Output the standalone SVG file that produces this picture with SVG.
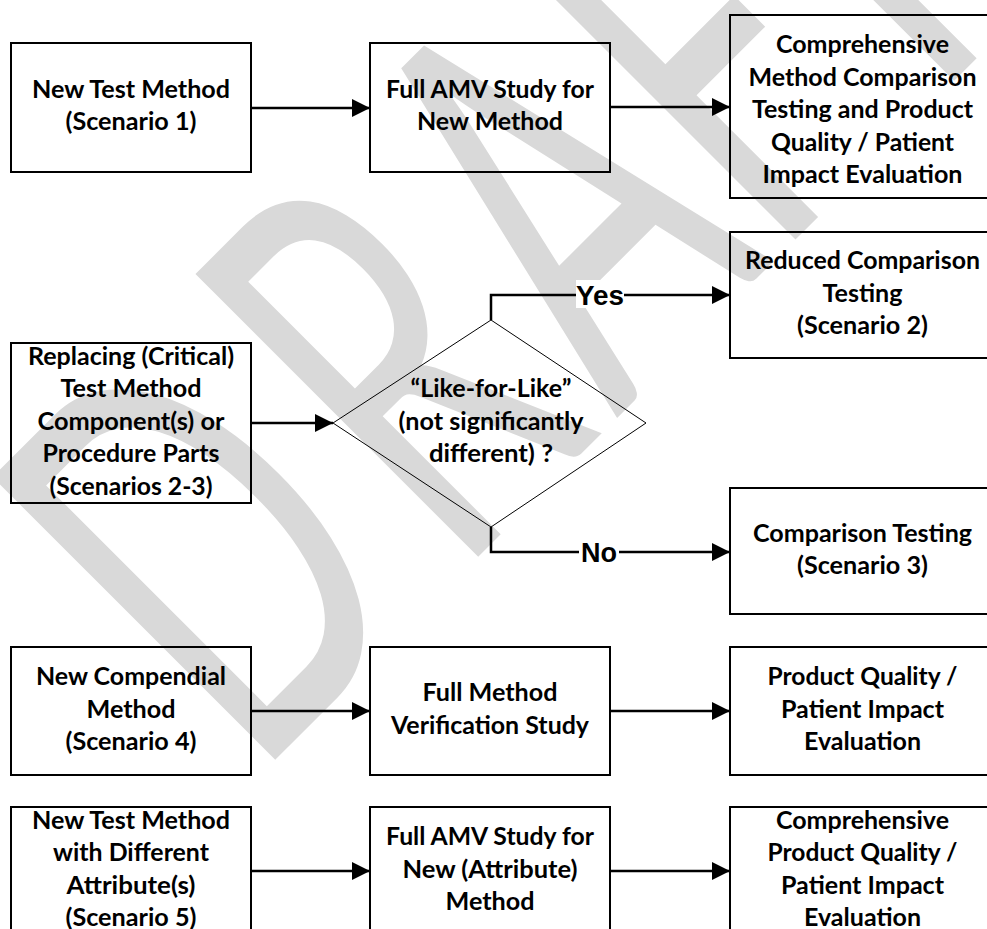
<svg xmlns="http://www.w3.org/2000/svg" width="987" height="929" viewBox="0 0 987 929">
  <style>
    .box { fill: none; stroke: #000; stroke-width: 2; }
    .dec { fill: none; stroke: #000; stroke-width: 1; }
    .t { font-family: Lato, "Open Sans", sans-serif; font-weight: 700; font-size: 24px; fill: #000; text-anchor: middle; }
    .lbl { font-family: "Liberation Sans", Arial, sans-serif; font-weight: 700; font-size: 27px; fill: #000; text-anchor: middle; }
    .wm { font-family: Lato, "Open Sans", sans-serif; font-weight: 400; font-size: 100px; fill: #d9d9d9; }
    .conn { fill: none; stroke: #000; stroke-width: 2.5; marker-end: url(#arr); }
    .bg { fill: #fff; }
  </style>
  <defs>
    <marker id="arr" markerUnits="userSpaceOnUse" viewBox="0 0 18 18" markerWidth="18" markerHeight="18" refX="18" refY="9" orient="auto">
      <path d="M0,0 L18,9 L0,18 z" fill="#000"/>
    </marker>
  </defs>

  <rect width="987" height="929" fill="#fff"/>

  <!-- watermark: diagonal, stretched along the letter height -->
  <g id="watermark" transform="matrix(2.333,-2.333,3.946,3.946,517.5,517.5)">
    <text class="wm" x="-113 -26 42.4 110 162.4" y="0">DRAFT</text>
  </g>

  <!-- connectors -->
  <g id="connectors">
    <path class="conn" d="M251,108 H370"/>
    <path class="conn" d="M610,107 H730"/>
    <path class="conn" d="M251,423 H333"/>
    <path class="conn" d="M491,320 V295 H730"/>
    <path class="conn" d="M491,527 V552 H730"/>
    <path class="conn" d="M251,711 H370"/>
    <path class="conn" d="M610,711 H730"/>
    <path class="conn" d="M251,871 H370"/>
    <path class="conn" d="M610,871 H730"/>
    <rect class="bg" x="576" y="280" width="48" height="28"/>
    <text class="lbl" x="600" y="305" textLength="48" lengthAdjust="spacingAndGlyphs">Yes</text>
    <rect class="bg" x="579" y="538" width="40" height="28"/>
    <text class="lbl" x="599" y="562">No</text>
  </g>

  <!-- row 1 -->
  <g id="n1">
    <rect class="box" x="11" y="43" width="240" height="129"/>
    <text class="t" x="131" y="98" textLength="198" lengthAdjust="spacingAndGlyphs">New Test Method</text>
    <text class="t" x="131" y="130" textLength="131" lengthAdjust="spacingAndGlyphs">(Scenario 1)</text>
  </g>
  <g id="n2">
    <rect class="box" x="370" y="43" width="240" height="129"/>
    <text class="t" x="490" y="98" textLength="208" lengthAdjust="spacingAndGlyphs">Full AMV Study for</text>
    <text class="t" x="490" y="130" textLength="146" lengthAdjust="spacingAndGlyphs">New Method</text>
  </g>
  <g id="n3">
    <rect class="box" x="730" y="15" width="266" height="183"/>
    <text class="t" x="862.5" y="53" textLength="173" lengthAdjust="spacingAndGlyphs">Comprehensive</text>
    <text class="t" x="862.5" y="85.5" textLength="228" lengthAdjust="spacingAndGlyphs">Method Comparison</text>
    <text class="t" x="862.5" y="118" textLength="221" lengthAdjust="spacingAndGlyphs">Testing and Product</text>
    <text class="t" x="862.5" y="150.5" textLength="183" lengthAdjust="spacingAndGlyphs">Quality / Patient</text>
    <text class="t" x="862.5" y="183" textLength="200" lengthAdjust="spacingAndGlyphs">Impact Evaluation</text>
  </g>

  <!-- row 2: replacement branch -->
  <g id="n4">
    <rect class="box" x="11" y="343" width="240" height="160"/>
    <text class="t" x="131" y="364.5" textLength="206" lengthAdjust="spacingAndGlyphs">Replacing (Critical)</text>
    <text class="t" x="131" y="397" textLength="141" lengthAdjust="spacingAndGlyphs">Test Method</text>
    <text class="t" x="131" y="429.5" textLength="187" lengthAdjust="spacingAndGlyphs">Component(s) or</text>
    <text class="t" x="131" y="462" textLength="177" lengthAdjust="spacingAndGlyphs">Procedure Parts</text>
    <text class="t" x="131" y="494.5" textLength="163" lengthAdjust="spacingAndGlyphs">(Scenarios 2-3)</text>
  </g>
  <g id="n5">
    <polygon class="dec" points="333,423 491,320 646,423 491,527"/>
    <text class="t" x="491" y="397" textLength="161" lengthAdjust="spacingAndGlyphs">“Like-for-Like”</text>
    <text class="t" x="491" y="429.5" textLength="185" lengthAdjust="spacingAndGlyphs">(not significantly</text>
    <text class="t" x="491" y="462" textLength="124" lengthAdjust="spacingAndGlyphs">different) ?</text>
  </g>
  <g id="n6">
    <rect class="box" x="730" y="232" width="266" height="126"/>
    <text class="t" x="862.5" y="269" textLength="235" lengthAdjust="spacingAndGlyphs">Reduced Comparison</text>
    <text class="t" x="862.5" y="301.5" textLength="80" lengthAdjust="spacingAndGlyphs">Testing</text>
    <text class="t" x="862.5" y="334" textLength="131" lengthAdjust="spacingAndGlyphs">(Scenario 2)</text>
  </g>
  <g id="n7">
    <rect class="box" x="730" y="488" width="266" height="126"/>
    <text class="t" x="862.5" y="541.5" textLength="219" lengthAdjust="spacingAndGlyphs">Comparison Testing</text>
    <text class="t" x="862.5" y="574" textLength="131" lengthAdjust="spacingAndGlyphs">(Scenario 3)</text>
  </g>

  <!-- row 3: compendial -->
  <g id="n8">
    <rect class="box" x="11" y="647" width="240" height="128"/>
    <text class="t" x="131" y="685" textLength="190" lengthAdjust="spacingAndGlyphs">New Compendial</text>
    <text class="t" x="131" y="717.5" textLength="89" lengthAdjust="spacingAndGlyphs">Method</text>
    <text class="t" x="131" y="750" textLength="131" lengthAdjust="spacingAndGlyphs">(Scenario 4)</text>
  </g>
  <g id="n9">
    <rect class="box" x="370" y="647" width="240" height="128"/>
    <text class="t" x="490" y="701.25" textLength="135" lengthAdjust="spacingAndGlyphs">Full Method</text>
    <text class="t" x="490" y="733.75" textLength="198" lengthAdjust="spacingAndGlyphs">Verification Study</text>
  </g>
  <g id="n10">
    <rect class="box" x="730" y="647" width="266" height="128"/>
    <text class="t" x="862.5" y="685" textLength="190" lengthAdjust="spacingAndGlyphs">Product Quality /</text>
    <text class="t" x="862.5" y="717.5" textLength="163" lengthAdjust="spacingAndGlyphs">Patient Impact</text>
    <text class="t" x="862.5" y="750" textLength="117" lengthAdjust="spacingAndGlyphs">Evaluation</text>
  </g>

  <!-- row 4: different attribute -->
  <g id="n11">
    <rect class="box" x="11" y="807" width="240" height="128"/>
    <text class="t" x="131" y="828.75" textLength="198" lengthAdjust="spacingAndGlyphs">New Test Method</text>
    <text class="t" x="131" y="861.25" textLength="156" lengthAdjust="spacingAndGlyphs">with Different</text>
    <text class="t" x="131" y="893.75" textLength="129" lengthAdjust="spacingAndGlyphs">Attribute(s)</text>
    <text class="t" x="131" y="926.25" textLength="131" lengthAdjust="spacingAndGlyphs">(Scenario 5)</text>
  </g>
  <g id="n12">
    <rect class="box" x="370" y="807" width="240" height="128"/>
    <text class="t" x="490" y="845" textLength="208" lengthAdjust="spacingAndGlyphs">Full AMV Study for</text>
    <text class="t" x="490" y="877.5" textLength="175" lengthAdjust="spacingAndGlyphs">New (Attribute)</text>
    <text class="t" x="490" y="910" textLength="89" lengthAdjust="spacingAndGlyphs">Method</text>
  </g>
  <g id="n13">
    <rect class="box" x="730" y="807" width="266" height="128"/>
    <text class="t" x="862.5" y="828.75" textLength="173" lengthAdjust="spacingAndGlyphs">Comprehensive</text>
    <text class="t" x="862.5" y="861.25" textLength="190" lengthAdjust="spacingAndGlyphs">Product Quality /</text>
    <text class="t" x="862.5" y="893.75" textLength="163" lengthAdjust="spacingAndGlyphs">Patient Impact</text>
    <text class="t" x="862.5" y="926.25" textLength="117" lengthAdjust="spacingAndGlyphs">Evaluation</text>
  </g>
</svg>
